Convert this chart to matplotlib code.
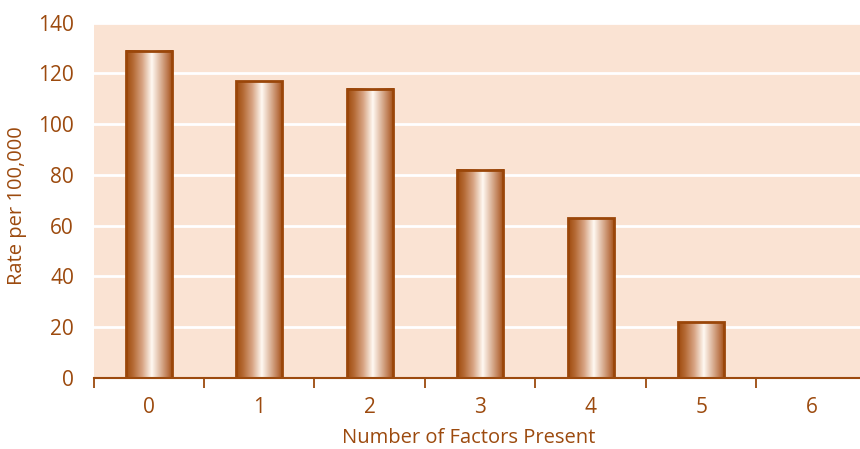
import numpy as np
import matplotlib
matplotlib.use("Agg")
import matplotlib.pyplot as plt
from matplotlib.colors import LinearSegmentedColormap
from matplotlib import font_manager

# Data
factors = ["0", "1", "2", "3", "4", "5", "6"]
rates = [129, 117, 114, 82, 63, 22, 0]
y_ticks = [0, 20, 40, 60, 80, 100, 120, 140]

names = {f.name for f in font_manager.fontManager.ttflist}
family = "Liberation Sans Narrow" if "Liberation Sans Narrow" in names else "Open Sans"
plt.rcParams["font.family"] = [family, "DejaVu Sans"]

text_color = "#9C4A0E"
bar_edge = "#9A4609"
bg_color = "#FAE3D3"

fig = plt.figure(figsize=(8.6, 4.49), dpi=100)
ax = fig.add_axes([93.5 / 860, (449 - 378) / 449, (867 - 93.5) / 860, (378 - 22.7) / 449])
ax.set_facecolor(bg_color)

x = np.arange(len(factors))
bars = ax.bar(x, rates, width=0.42, facecolor="none", edgecolor=bar_edge,
              linewidth=2.0, zorder=4)

# Cylindrical shading inside each bar
shade = LinearSegmentedColormap.from_list(
    "cyl",
    [(0.0, "#9E4A0C"), (0.15, "#B56A35"), (0.35, "#D8A585"),
     (0.55, "#FFF9F2"), (0.75, "#D9AE92"), (0.9, "#BA7448"), (1.0, "#9E4A0C")])
grad = np.linspace(0, 1, 256).reshape(1, -1)
for b in bars:
    h = b.get_height()
    if h <= 0:
        continue
    x0 = b.get_x()
    ax.imshow(grad, cmap=shade, aspect="auto", interpolation="bilinear",
              extent=(x0, x0 + b.get_width(), 0, h), zorder=3)

ax.set_xlim(-0.5, len(factors) - 0.5)
ax.set_ylim(0, 140)

ax.set_yticks(y_ticks)
ax.set_yticklabels([str(v) for v in y_ticks])
ax.yaxis.grid(True, color="white", linewidth=2.0, zorder=1)
ax.set_axisbelow(True)

ax.set_xticks(x)
ax.set_xticklabels(factors)
ax.set_xticks(np.arange(len(factors)) - 0.5, minor=True)
ax.tick_params(axis="x", which="major", length=0, pad=14, labelsize=15,
               labelcolor=text_color)
ax.tick_params(axis="x", which="minor", length=7, width=1.3, color=text_color,
               direction="out")
ax.tick_params(axis="y", length=0, pad=14, labelsize=15, labelcolor=text_color)

for s in ["top", "right", "left"]:
    ax.spines[s].set_visible(False)
ax.spines["bottom"].set_color(text_color)
ax.spines["bottom"].set_linewidth(1.5)
ax.spines["bottom"].set_zorder(5)

fig.text(17 / 860, 1 - 206 / 449, "Rate per 100,000", rotation=90,
         ha="center", va="center", fontsize=14.5, color=text_color)
fig.text(469 / 860, 1 - 438 / 449, "Number of Factors Present",
         ha="center", va="center", fontsize=14.5, color=text_color)

fig.savefig("out.png", dpi=100, facecolor="white")
